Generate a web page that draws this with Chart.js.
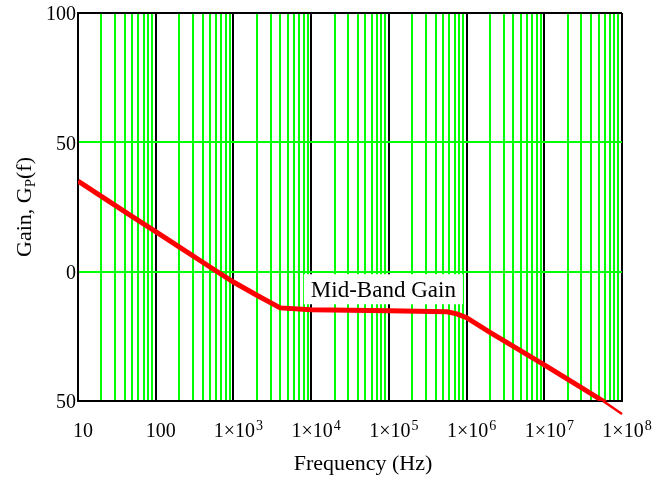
<!DOCTYPE html>
<html>
<head>
<meta charset="utf-8">
<script src="https://cdn.jsdelivr.net/npm/chart.js@4"></script>
<style>
  html, body { margin: 0; padding: 0; background: #fff; }
  #wrap { width: 669px; height: 477px; }
</style>
</head>
<body>
<div id="wrap"><canvas id="myChart" width="669" height="477"></canvas></div>
<script>
// Gain curve (frequency in Hz, gain in dB)
const freqs = [10, 20, 50, 100, 200, 500, 1000, 2000, 4000, 1e4, 1e5, 5.6e5, 7.5e5, 1e6, 2e6, 5e6, 1e7, 3e7, 5.7e7, 1e8];
const gains = [35, 29.1, 21.3, 15.5, 9.6, 1.8, -4, -9.1, -14, -14.7, -15.1, -15.5, -16.3, -17.8, -23.5, -30.6, -36, -44.8, -50, -55];

// tick labels, as printed on the original
const yTickValues = [-50, 0, 50, 100];
const yTickLabels = ['50', '0', '50', '100'];
const xTickValues = [10, 100, 1e3, 1e4, 1e5, 1e6, 1e7, 1e8];
const xTickBase = ['10', '100', '1×10', '1×10', '1×10', '1×10', '1×10', '1×10'];
const xTickExp = ['', '', '3', '4', '5', '6', '7', '8'];

const midBandLabel = {text: 'Mid-Band Gain', freq: 8.5e4, gain: -6.8};

const serif = '"Liberation Serif", "Times New Roman", serif';
const gridGreen = '#00ff00';

function isDecade(v){
    const l = Math.log10(v);
    return Math.abs(l - Math.round(l)) < 1e-9;
}

// draws tick labels (x ones with superscripts), axis titles and the annotation
const textPlugin = {
    id: 'mathcadText',
    afterDraw(chart){
        const ctx = chart.ctx;
        const xs = chart.scales.x;
        const ys = chart.scales.y;
        const area = chart.chartArea;
        ctx.save();
        ctx.fillStyle = '#000';

        // y tick labels
        ctx.font = '20px ' + serif;
        ctx.textAlign = 'right';
        ctx.textBaseline = 'middle';
        for(let i = 0; i < yTickValues.length; i++){
            ctx.fillText(yTickLabels[i], area.left - 2, ys.getPixelForValue(yTickValues[i]) + 2);
        }

        ctx.textBaseline = 'alphabetic';
        // x tick labels
        for(let i = 0; i < xTickValues.length; i++){
            const px = xs.getPixelForValue(xTickValues[i]) + 5;
            ctx.font = '20px ' + serif;
            const wBase = ctx.measureText(xTickBase[i]).width;
            ctx.font = '14px ' + serif;
            const wExp = xTickExp[i] ? ctx.measureText(xTickExp[i]).width + 1 : 0;
            const left = px - (wBase + wExp) / 2;
            ctx.font = '20px ' + serif;
            ctx.textAlign = 'left';
            ctx.fillText(xTickBase[i], left, area.bottom + 36);
            if(xTickExp[i]){
                ctx.font = '14px ' + serif;
                ctx.fillText(xTickExp[i], left + wBase + 1, area.bottom + 29);
            }
        }

        // x title
        ctx.font = '22px ' + serif;
        ctx.textAlign = 'center';
        ctx.fillText('Frequency (Hz)', 363, area.bottom + 69);

        // y title, rotated, with subscript P
        ctx.save();
        ctx.translate(31, (area.top + area.bottom) / 2);
        ctx.rotate(-Math.PI / 2);
        ctx.font = '22px ' + serif;
        const partA = 'Gain, G';
        const partC = '(f)';
        const wA = ctx.measureText(partA).width;
        const wC = ctx.measureText(partC).width;
        ctx.font = '15px ' + serif;
        const wB = ctx.measureText('P').width;
        const start = -(wA + wB + wC) / 2;
        ctx.textAlign = 'left';
        ctx.font = '22px ' + serif;
        ctx.fillText(partA, start, 0);
        ctx.font = '15px ' + serif;
        ctx.fillText('P', start + wA, 4);
        ctx.font = '22px ' + serif;
        ctx.fillText(partC, start + wA + wB, 0);
        ctx.restore();

        // annotation box
        const lx = xs.getPixelForValue(midBandLabel.freq);
        const ly = ys.getPixelForValue(midBandLabel.gain);
        ctx.font = '23px ' + serif;
        const tw = ctx.measureText(midBandLabel.text).width;
        ctx.fillStyle = '#fff';
        ctx.fillRect(lx - tw / 2 - 7, ly - 15, tw + 14, 30);
        ctx.fillStyle = '#000';
        ctx.textAlign = 'center';
        ctx.fillText(midBandLabel.text, lx, ly + 8);
        ctx.restore();
    }
};

const points = freqs.map((f, i) => ({x: f, y: gains[i]}));

const ctx = document.getElementById('myChart').getContext('2d');
const chart = new Chart(ctx, {
    type: 'line',
    data: {
        datasets: [{
            label: 'Gain',
            data: points,
            borderColor: '#ff0000',
            borderWidth: 5,
            pointRadius: 0,
            tension: 0,
            fill: false
        }, {
            // thin part of the trace running past the bottom edge
            label: 'Gain tail',
            data: points.slice(-2),
            borderColor: '#ff0000',
            borderWidth: 2.5,
            pointRadius: 0,
            tension: 0,
            fill: false,
            clip: false
        }]
    },
    options: {
        responsive: false,
        animation: false,
        layout: {padding: {left: 0, top: 13, right: 47, bottom: 0}},
        plugins: {legend: {display: false}, tooltip: {enabled: false}},
        scales: {
            x: {
                type: 'logarithmic',
                min: 10,
                max: 1e8,
                afterBuildTicks(scale){
                    const t = [];
                    for(let d = 10; d < 1e8; d *= 10){
                        for(let m = 1; m < 10; m++) t.push({value: m * d});
                    }
                    t.push({value: 1e8});
                    scale.ticks = t;
                },
                afterFit(scale){ scale.height = 76; },
                ticks: {display: false},
                grid: {
                    drawTicks: false,
                    color: c => isDecade(c.tick.value) ? '#000' : gridGreen,
                    lineWidth: 2
                },
                border: {display: true, color: '#000', width: 2}
            },
            y: {
                min: -50,
                max: 100,
                afterBuildTicks(scale){
                    scale.ticks = yTickValues.map(v => ({value: v}));
                },
                afterFit(scale){ scale.width = 78; },
                ticks: {display: false},
                grid: {
                    drawTicks: false,
                    color: c => (c.tick.value === 0 || c.tick.value === 50) ? gridGreen : '#000',
                    lineWidth: 2
                },
                border: {display: true, color: '#000', width: 2}
            }
        }
    },
    plugins: [textPlugin]
});
</script>
</body>
</html>
